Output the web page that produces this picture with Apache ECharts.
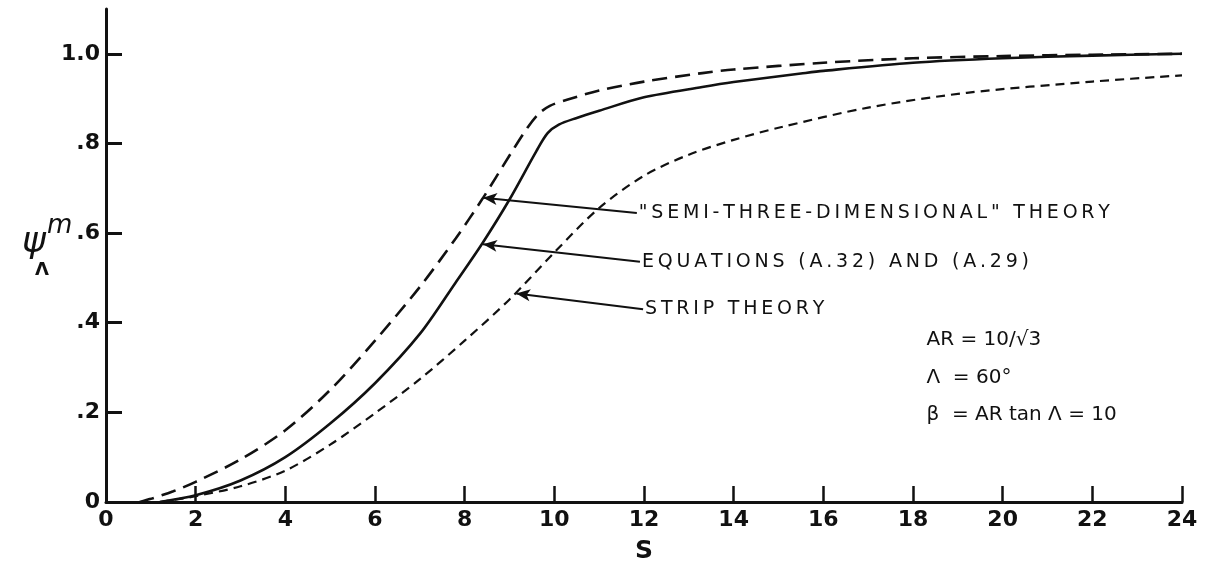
<!DOCTYPE html>
<html>
<head>
<meta charset="utf-8">
<script src="https://cdn.jsdelivr.net/npm/echarts@6/dist/echarts.min.js"></script>
<style>
  html, body { margin: 0; padding: 0; background: #fff; }
  #chart { width: 1210px; height: 569px; }
</style>
</head>
<body>
<div id="chart"></div>
<script>
// S values and psi values for each of the three theories
const semiS   = [0.75, 1.0, 1.5, 2.0, 3.0, 4.0, 5.0, 6.0, 7.0, 7.8, 8.4, 9.0, 9.4, 9.65, 9.9, 10.3, 11.0, 12.0, 13.3, 14.0, 16.0, 18.0, 20.0, 22.0, 24.0];
const semiPsi = [0.0, 0.007, 0.024, 0.045, 0.095, 0.16, 0.25, 0.36, 0.48, 0.588, 0.677, 0.773, 0.835, 0.866, 0.884, 0.898, 0.918, 0.938, 0.957, 0.965, 0.98, 0.99, 0.995, 0.998, 1.0];

const eqS   = [1.2, 2.0, 3.0, 4.0, 5.0, 6.0, 7.0, 7.8, 8.4, 9.0, 9.6, 9.85, 10.1, 10.5, 11.0, 12.0, 13.3, 14.0, 15.5, 16.0, 18.0, 20.0, 22.0, 24.0];
const eqPsi = [0.0, 0.015, 0.048, 0.10, 0.175, 0.265, 0.375, 0.49, 0.578, 0.675, 0.783, 0.823, 0.842, 0.857, 0.873, 0.903, 0.926, 0.937, 0.956, 0.962, 0.98, 0.99, 0.996, 1.0];

const stripS   = [1.2, 2.0, 3.0, 4.0, 5.0, 6.0, 7.0, 8.0, 9.0, 10.0, 11.0, 12.0, 13.0, 14.0, 15.0, 17.0, 19.2, 22.0, 24.0];
const stripPsi = [0.0, 0.013, 0.035, 0.07, 0.128, 0.198, 0.274, 0.36, 0.452, 0.557, 0.656, 0.728, 0.775, 0.808, 0.835, 0.88, 0.913, 0.938, 0.952];

const xTicks = [0, 2, 4, 6, 8, 10, 12, 14, 16, 18, 20, 22, 24];
const yTicks = [0, 0.2, 0.4, 0.6, 0.8, 1.0];
const yTickText = ['0', '.2', '.4', '.6', '.8', '1.0'];

// Leader arrows: [label text, tail (S, psi), head (S, psi)]
const leaders = [
  ['"SEMI-THREE-DIMENSIONAL" THEORY', [11.84, 0.645], [8.41, 0.679]],
  ['EQUATIONS (A.32) AND (A.29)', [11.91, 0.536], [8.41, 0.575]],
  ['STRIP THEORY', [11.98, 0.43], [9.15, 0.465]]
];

// Parameter notes
const notes = ['AR = 10/\u221A3', '\u039B  = 60\u00B0', '\u03B2  = AR tan \u039B = 10'];
const notePos = [[18.3, 0.362], [18.3, 0.277], [18.3, 0.194]];

const INK = '#111';
const FONT = '"DejaVu Sans", "Liberation Sans", sans-serif';

const zip = (xs, ys) => xs.map((x, i) => [x, ys[i]]);
// open up the lettering with thin spaces between characters
const spaced = s => Array.from(s).join('\u2009');

const chart = echarts.init(document.getElementById('chart'), null, { renderer: 'canvas' });

const option = {
  backgroundColor: '#fff',
  animation: false,
  grid: { left: 106, right: 28, top: 9, bottom: 67 },
  xAxis: {
    type: 'value',
    min: 0, max: 24, interval: 2,
    name: 'S',
    nameLocation: 'middle',
    nameGap: 37,
    nameTextStyle: { color: INK, fontFamily: FONT, fontSize: 25, fontWeight: 'bold' },
    axisLine: { show: true, lineStyle: { color: INK, width: 3 } },
    axisTick: { show: true, inside: true, length: 16, lineStyle: { color: INK, width: 2.5 }, customValues: xTicks.slice(1) },
    axisLabel: { color: INK, fontFamily: FONT, fontSize: 22, fontWeight: 'bold', margin: 7, customValues: xTicks,
                 formatter: v => String(v) },
    splitLine: { show: false }
  },
  yAxis: {
    type: 'value',
    min: 0, max: 1.1,
    axisLine: { show: true, lineStyle: { color: INK, width: 3 } },
    axisTick: { show: true, inside: true, length: 16, lineStyle: { color: INK, width: 3 }, customValues: yTicks },
    axisLabel: { color: INK, fontFamily: FONT, fontSize: 22, fontWeight: 'bold', margin: 6, customValues: yTicks,
                 formatter: v => { const i = yTicks.findIndex(t => Math.abs(t - v) < 1e-6); return i >= 0 ? yTickText[i] : ''; } },
    splitLine: { show: false }
  },
  series: [
    {
      name: 'semi', type: 'line', data: zip(semiS, semiPsi), smooth: 0.3, showSymbol: false,
      lineStyle: { color: INK, width: 2.6, type: [15, 8] },
      markLine: {
        silent: true, symbol: ['arrow', 'none'], symbolSize: [9, 14],
        label: { show: false },
        lineStyle: { color: INK, width: 2, type: 'solid' },
        data: leaders.map(l => [{ coord: l[2] }, { coord: l[1] }])
      }
    },
    {
      name: 'eq', type: 'line', data: zip(eqS, eqPsi), smooth: 0.3, showSymbol: false,
      lineStyle: { color: INK, width: 2.6, type: 'solid' }
    },
    {
      name: 'strip', type: 'line', data: zip(stripS, stripPsi), smooth: 0.3, showSymbol: false,
      lineStyle: { color: INK, width: 2.2, type: [9, 6] }
    }
  ]
};

chart.setOption(option);

// Text placed in data space through the chart's own coordinate conversion
function px(pt) { return chart.convertToPixel({ gridIndex: 0 }, pt); }

const graphics = [];
leaders.forEach(l => {
  const p = px(l[1]);
  graphics.push({
    type: 'text', x: p[0] + 2, y: p[1],
    style: { text: spaced(l[0]), fill: INK, font: '19px ' + FONT, textAlign: 'left', textVerticalAlign: 'middle' }
  });
});
notes.forEach((t, i) => {
  const p = px(notePos[i]);
  graphics.push({
    type: 'text', x: p[0], y: p[1],
    style: { text: t, fill: INK, font: '20px ' + FONT, textAlign: 'left', textVerticalAlign: 'middle' }
  });
});
// psi with superscript m and subscript Lambda
graphics.push(
  { type: 'text', x: 22, y: 243, style: { text: '\u03C8', fill: INK, font: 'italic 36px ' + FONT, textAlign: 'left', textVerticalAlign: 'middle' } },
  { type: 'text', x: 47, y: 226, style: { text: 'm', fill: INK, font: 'italic 26px ' + FONT, textAlign: 'left', textVerticalAlign: 'middle' } },
  { type: 'text', x: 35, y: 270, style: { text: '\u039B', fill: INK, font: 'bold 18px ' + FONT, textAlign: 'left', textVerticalAlign: 'middle' } }
);

chart.setOption({ graphic: graphics });
</script>
</body>
</html>
